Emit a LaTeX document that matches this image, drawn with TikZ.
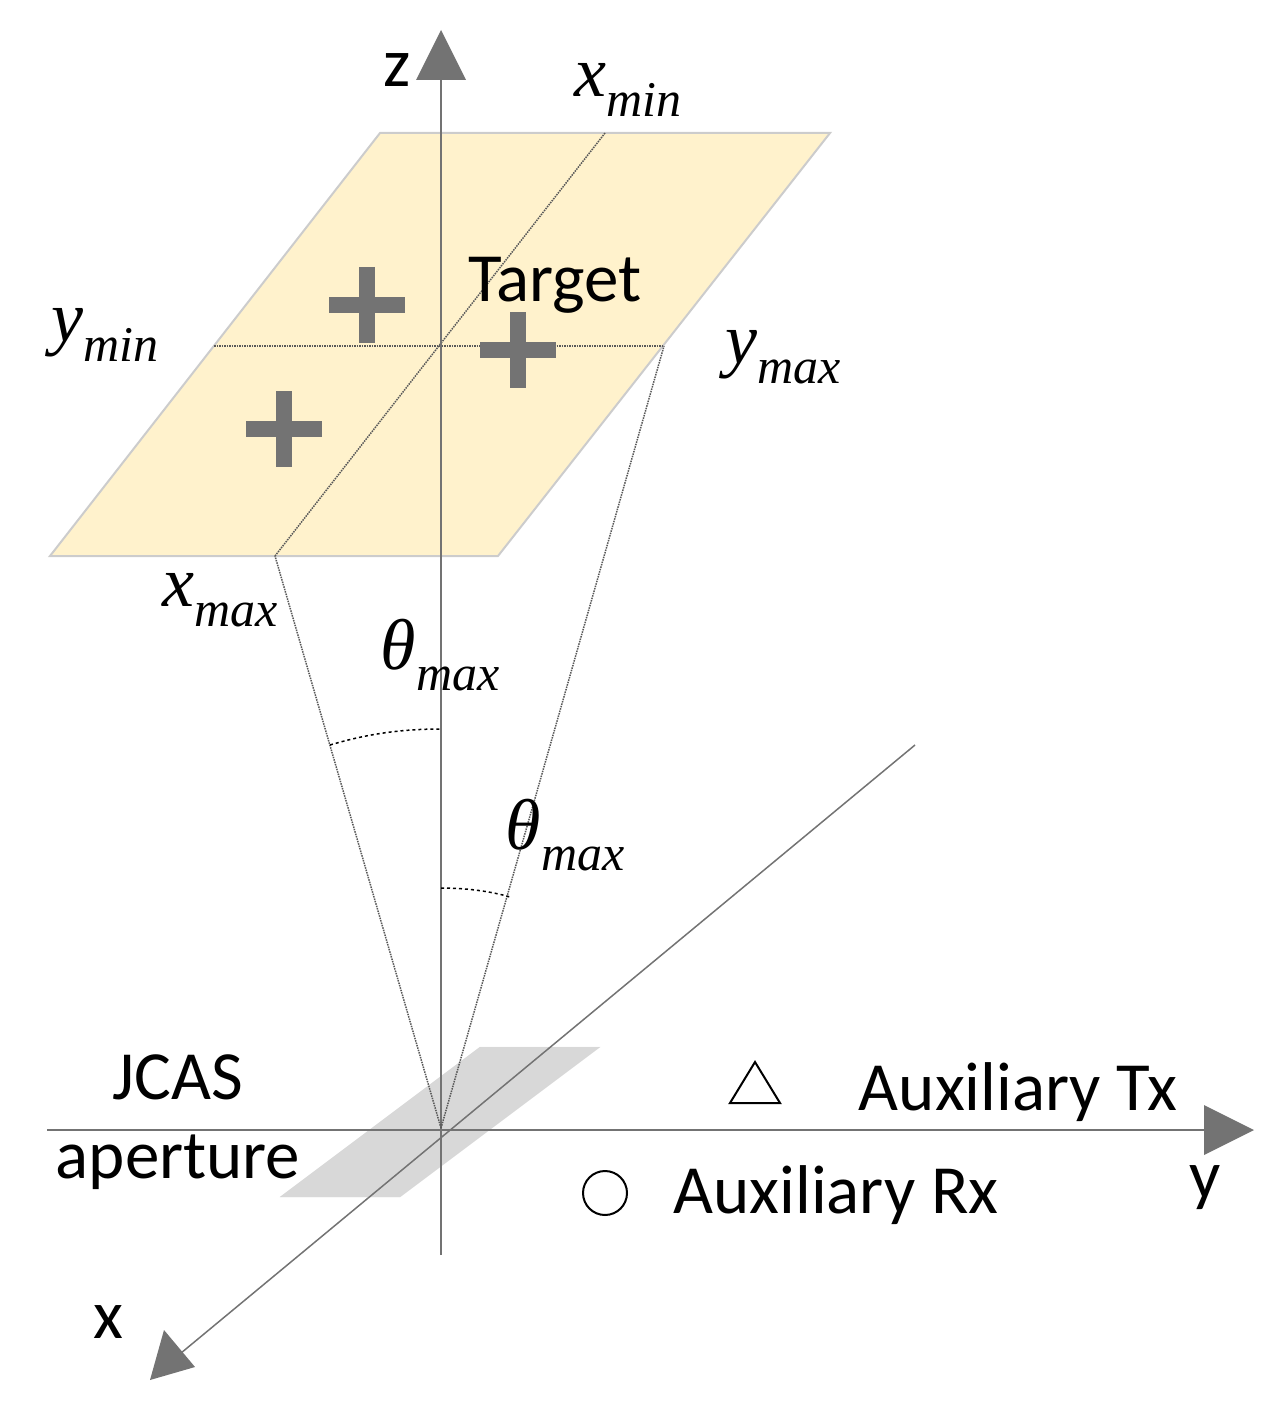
\documentclass[tikz,border=0pt]{standalone}
\usepackage{fontspec}
\setmainfont{Carlito}
\newfontfamily\mif{Liberation Serif}
\newcommand{\mvar}[2]{{\mif\itshape #1\raisebox{-0.28em}{\fontsize{50}{55}\selectfont #2}}}
\begin{document}
\begin{tikzpicture}[x=1pt,y=-1pt,
 ax/.style={draw=gray!90!black,line width=2pt},
 tip/.style={fill=gray!90!black},
 lbl/.style={font=\fontsize{69}{75}\selectfont,inner sep=0},
 mth/.style={font=\fontsize{72}{78}\selectfont,inner sep=0},
 dot/.style={densely dotted,line width=1.5pt,draw=gray!70!black},
 plus/.style={draw=gray!90!black,line width=16pt}]
\useasboundingbox (0,0) rectangle (1273,1412);
% plane
\fill[fill={rgb,255:red,255;green,242;blue,204},draw=gray!40,line width=2pt] (380,133)--(830,133)--(498,556)--(50,556)--cycle;
\draw[dot] (605,133)--(275,556);
\draw[dot] (214,346)--(664,346);
% plus
\foreach \p/\q in {367/305,518/350,284/429}{
 \draw[plus] (\p-38,\q)--(\p+38,\q); \draw[plus] (\p,\q-38)--(\p,\q+38);}
% aperture
\fill[gray!60,opacity=0.5,draw=gray!40] (480,1047)--(600,1047)--(400,1197)--(280,1197)--cycle;
% axes
\coordinate (o) at (441,1128);
\coordinate (zb) at (441,1255); \coordinate (zt) at (441,72);
\draw[ax] (zb)--(zt);
\fill[tip] (441,30)--(466,80)--(416,80)--cycle;
\coordinate (yl) at (47,1130); \coordinate (yr) at (1210,1130);
\draw[ax] (yl)--(yr);
\fill[tip] (1254,1130)--(1204,1105)--(1204,1155)--cycle;
\coordinate (xs) at (915,745); \coordinate (xe) at (175,1358);
\draw[ax,line width=1.5pt] (xs)--(xe);
\fill[tip] (150,1380)--(164,1330)--(195,1367)--cycle;
% cone
\coordinate (c1) at (275,556); \coordinate (c2) at (664,346);
\draw[dot] (o)--(c1); \draw[dot] (o)--(c2);
\draw[dashed,line width=1.5pt] (330,745) .. controls (370,733) and (405,729) .. (441,729);
\draw[dashed,line width=1.5pt] (441,888) .. controls (465,888) and (490,891) .. (510,897);
% markers
\draw[line width=2pt] (755,1062)--(780,1103)--(730,1103)--cycle;
\draw[line width=2pt] (605,1193) circle (22);
% labels
\node[lbl] (lz) at (397,70) {z};
\node[lbl] (ly) at (1205,1188) {y};
\node[lbl] (lx) at (108,1322) {x};
\node[lbl] (tg) at (555,285) {Target};
\node[lbl] (j1) at (178,1077) {JCAS};
\node[lbl] (j2) at (178,1162) {aperture};
\node[lbl] (tx) at (1018,1092) {Auxiliary Tx};
\node[lbl] (rx) at (836,1195) {Auxiliary Rx};
\node[mth] (m1) at (628,90) {\mvar{x}{min}};
\node[mth] (m2) at (105,335) {\mvar{y}{min}};
\node[mth] (m3) at (783,357) {\mvar{y}{max}};
\node[mth] (m4) at (220,600) {\mvar{x}{max}};
\node[mth] (m5) at (440,655) {\mvar{θ}{max}};
\node[mth] (m6) at (565,835) {\mvar{θ}{max}};
\end{tikzpicture}
\end{document}
